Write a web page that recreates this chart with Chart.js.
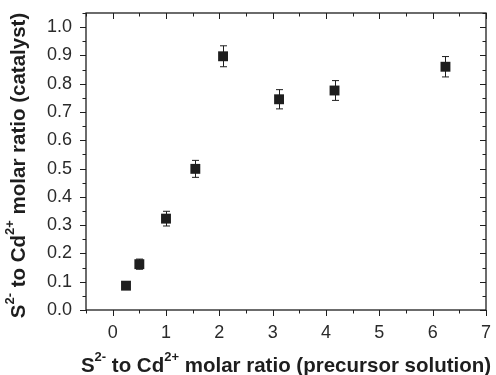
<!DOCTYPE html>
<html lang="en">

<head>
    <meta charset="UTF-8">
    <title>S/Cd molar ratio</title>
    <script src="https://cdn.jsdelivr.net/npm/chart.js"></script>
    <style>
        html, body { margin: 0; padding: 0; background: #fff; }
        #wrap { width: 496px; height: 375px; }
    </style>
</head>

<body>
    <div id="wrap"><canvas id="ratio-chart" width="496" height="375"></canvas></div>
    <script>
        // S2- to Cd2+ ratio in precursor solution (x) vs. in catalyst (y)
        const precursorRatio = [0.25, 0.5, 1.0, 1.55, 2.07, 3.12, 4.16, 6.24];
        const catalystRatio = [0.086, 0.162, 0.323, 0.499, 0.897, 0.745, 0.776, 0.860];
        const catalystError = [0.010, 0.018, 0.026, 0.030, 0.037, 0.034, 0.035, 0.036];

        const xTicks = [0, 1, 2, 3, 4, 5, 6, 7];
        const yTicks = [0.0, 0.1, 0.2, 0.3, 0.4, 0.5, 0.6, 0.7, 0.8, 0.9, 1.0];

        const ink = '#1e1e1e';

        // draws "S2- to Cd2+ ..." with real superscripts, centred on (cx, baseline)
        function drawTitle(ctx, parts, cx, baseline) {
            const mainFont = 'bold 20.5px "Liberation Sans", Arial, sans-serif';
            const supFont = 'bold 13px "Liberation Sans", Arial, sans-serif';
            let total = 0;
            parts.forEach(p => {
                ctx.font = p.sup ? supFont : mainFont;
                p.w = ctx.measureText(p.t).width;
                total += p.w;
            });
            let x = cx - total / 2;
            ctx.textAlign = 'left';
            ctx.textBaseline = 'alphabetic';
            parts.forEach(p => {
                ctx.font = p.sup ? supFont : mainFont;
                ctx.fillText(p.t, x, p.sup ? baseline - 11 : baseline);
                x += p.w;
            });
        }

        const xTitle = [
            { t: 'S' }, { t: '2-', sup: true }, { t: ' to Cd' }, { t: '2+', sup: true },
            { t: ' molar ratio (precursor solution)' }
        ];
        const yTitle = [
            { t: 'S' }, { t: '2-', sup: true }, { t: ' to Cd' }, { t: '2+', sup: true },
            { t: ' molar ratio (catalyst)' }
        ];

        const framePlugin = {
            id: 'frame',
            beforeDatasetsDraw(chart) {
                // error bars go under the square markers
                const ctx = chart.ctx;
                const xs = chart.scales.x, ys = chart.scales.y;
                ctx.save();
                ctx.strokeStyle = ink;
                ctx.lineWidth = 1;
                precursorRatio.forEach((xv, i) => {
                    const px = Math.round(xs.getPixelForValue(xv)) + 0.5;
                    const lo = ys.getPixelForValue(catalystRatio[i] - catalystError[i]);
                    const hi = ys.getPixelForValue(catalystRatio[i] + catalystError[i]);
                    ctx.beginPath();
                    ctx.moveTo(px, lo); ctx.lineTo(px, hi);
                    ctx.moveTo(px - 3.5, lo); ctx.lineTo(px + 3.5, lo);
                    ctx.moveTo(px - 3.5, hi); ctx.lineTo(px + 3.5, hi);
                    ctx.stroke();
                });
                ctx.restore();
            },
            afterDraw(chart) {
                const ctx = chart.ctx;
                const a = chart.chartArea;
                const xs = chart.scales.x, ys = chart.scales.y;
                ctx.save();
                ctx.strokeStyle = ink;
                ctx.lineWidth = 1.3;
                ctx.strokeRect(a.left, a.top, a.right - a.left, a.bottom - a.top);

                ctx.lineWidth = 1;
                ctx.beginPath();
                // x ticks every 0.5, major on integers
                for (let v = -0.5; v <= 7.001; v += 0.5) {
                    const px = Math.round(xs.getPixelForValue(v)) + 0.5;
                    const major = Math.abs(v - Math.round(v)) < 1e-6;
                    const len = major ? 6 : 3.5;
                    ctx.moveTo(px, a.bottom); ctx.lineTo(px, a.bottom + len);
                    ctx.moveTo(px, a.top); ctx.lineTo(px, a.top + len);
                }
                // y ticks every 0.05, major every 0.1
                for (let k = 0; k <= 21; k++) {
                    const v = k * 0.05;
                    const py = Math.round(ys.getPixelForValue(v)) + 0.5;
                    const len = k % 2 === 0 ? 6 : 3.5;
                    ctx.moveTo(a.left, py); ctx.lineTo(a.left - len, py);
                    ctx.moveTo(a.right, py); ctx.lineTo(a.right - len, py);
                }
                ctx.stroke();

                ctx.fillStyle = ink;
                drawTitle(ctx, xTitle, (a.left + a.right) / 2, 372);
                ctx.translate(25, (a.top + a.bottom) / 2 + 4);
                ctx.rotate(-Math.PI / 2);
                drawTitle(ctx, yTitle, 0, 0);
                ctx.restore();
            }
        };

        const tickFont = { family: '"Liberation Sans", Arial, sans-serif', size: 18 };

        function noPad(s) {
            s.paddingTop = 0; s.paddingBottom = 0;
            s.paddingLeft = 0; s.paddingRight = 0;
        }

        new Chart(document.getElementById('ratio-chart'), {
            type: 'scatter',
            data: {
                datasets: [{
                    label: 'catalyst',
                    data: precursorRatio.map((x, i) => ({ x: x, y: catalystRatio[i] })),
                    pointStyle: 'rect',
                    pointRadius: 7,
                    pointHoverRadius: 7,
                    backgroundColor: ink,
                    borderColor: ink,
                    borderWidth: 0
                }]
            },
            options: {
                responsive: false,
                animation: false,
                events: [],
                layout: { padding: { left: 0, right: 10, top: 13, bottom: 0 } },
                plugins: { legend: { display: false }, tooltip: { enabled: false } },
                scales: {
                    x: {
                        type: 'linear',
                        min: -0.5,
                        max: 7,
                        grid: { display: false, drawTicks: false },
                        border: { display: false },
                        afterBuildTicks: s => { s.ticks = xTicks.map(v => ({ value: v })); },
                        afterFit: s => { s.height = 65; noPad(s); },
                        ticks: { color: '#2a2a2a', font: tickFont, padding: 12, maxRotation: 0, autoSkip: false }
                    },
                    y: {
                        type: 'linear',
                        min: 0,
                        max: 1.05,
                        grid: { display: false, drawTicks: false },
                        border: { display: false },
                        afterBuildTicks: s => { s.ticks = yTicks.map(v => ({ value: v })); },
                        afterFit: s => { s.width = 86; noPad(s); },
                        ticks: {
                            color: '#2a2a2a', font: tickFont, padding: 14, autoSkip: false,
                            callback: v => v.toFixed(1)
                        }
                    }
                }
            },
            plugins: [framePlugin]
        });
    </script>
</body>

</html>
